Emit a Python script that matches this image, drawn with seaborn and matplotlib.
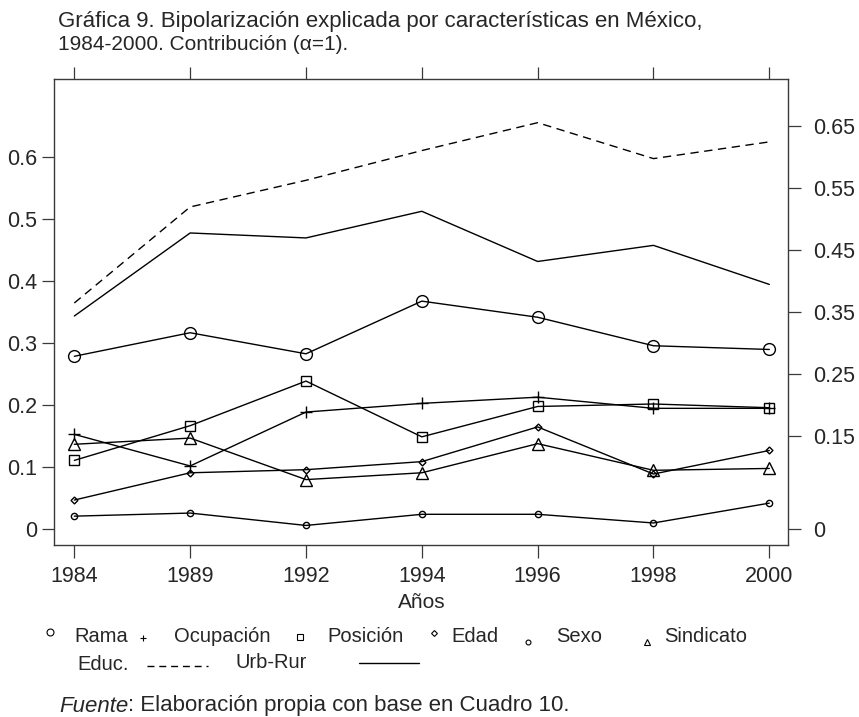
import numpy as np
import pandas as pd
import matplotlib
matplotlib.use("Agg")
import matplotlib.pyplot as plt
from matplotlib.lines import Line2D
import seaborn as sns

# Survey years (equally spaced on the axis)
years = ["1984", "1989", "1992", "1994", "1996", "1998", "2000"]

# Contribution of each characteristic to bipolarization (alpha = 1)
rama      = [0.279, 0.317, 0.283, 0.368, 0.342, 0.296, 0.290]
ocupacion = [0.153, 0.102, 0.189, 0.203, 0.213, 0.195, 0.195]
posicion  = [0.111, 0.167, 0.239, 0.149, 0.198, 0.202, 0.196]
edad      = [0.047, 0.091, 0.096, 0.109, 0.165, 0.089, 0.127]
sexo      = [0.021, 0.026, 0.006, 0.024, 0.024, 0.010, 0.042]
sindicato = [0.137, 0.147, 0.080, 0.091, 0.138, 0.095, 0.098]
educ      = [0.365, 0.520, 0.563, 0.611, 0.656, 0.598, 0.625]
urb_rur   = [0.344, 0.478, 0.470, 0.513, 0.432, 0.458, 0.395]

left_ticks = [0, 0.1, 0.2, 0.3, 0.4, 0.5, 0.6]
right_ticks = [0, 0.15, 0.25, 0.35, 0.45, 0.55, 0.65]

sns.set_theme(style="white")
plt.rcParams["font.family"] = ["Liberation Sans", "DejaVu Sans"]

W, H = 859, 717
fig = plt.figure(figsize=(W / 100, H / 100), dpi=100)
ax = fig.add_axes([0.0632, 0.2395, 0.8545, 0.6499])


def fx(px):
    return px / W


def fy(py):
    return 1 - py / H


pos = np.arange(len(years))
df = pd.DataFrame({"pos": pos, "Rama": rama, "Ocupación": ocupacion,
                   "Posición": posicion, "Edad": edad, "Sexo": sexo,
                   "Sindicato": sindicato, "Educ.": educ, "Urb-Rur": urb_rur})

lw = 1.0
styles = {
    "Rama":      dict(marker="o", markersize=8.5),
    "Ocupación": dict(marker="+", markersize=8),
    "Posición":  dict(marker="s", markersize=7.5),
    "Edad":      dict(marker="D", markersize=3.5),
    "Sexo":      dict(marker="o", markersize=4.5),
    "Sindicato": dict(marker="^", markersize=8),
}
for name, st in styles.items():
    sns.lineplot(data=df, x="pos", y=name, ax=ax, color="black", lw=lw,
                 marker=st["marker"], markersize=st["markersize"],
                 markerfacecolor="none", markeredgecolor="black",
                 markeredgewidth=1.0)
sns.lineplot(data=df, x="pos", y="Educ.", ax=ax, color="black", lw=lw,
             linestyle=(0, (6, 4)))
sns.lineplot(data=df, x="pos", y="Urb-Rur", ax=ax, color="black", lw=lw)

ax.set_xlim(-0.173, 6.164)
ax.set_ylim(-0.026, 0.726)
ax.set_xticks(pos)
ax.set_xticklabels(years)
ax.set_yticks(left_ticks)
ax.set_yticklabels([f"{t:g}" for t in left_ticks])
ax.set_xlabel("Años", fontsize=15, labelpad=4)
ax.set_ylabel("")

for sp in ax.spines.values():
    sp.set_color("#3a3a3a")
    sp.set_linewidth(1.0)

ax.tick_params(axis="both", direction="out", length=9, width=0.9,
               color="#3a3a3a", labelsize=15.5, pad=3,
               left=True, bottom=True, top=True, labeltop=False)
ax.tick_params(axis="x", pad=6)

ax2 = ax.twinx()
ax2.set_ylim(ax.get_ylim())
ax2.set_yticks(right_ticks)
ax2.set_yticklabels([f"{t:g}" for t in right_ticks])
ax2.tick_params(axis="y", direction="out", length=9, width=0.9,
                color="#3a3a3a", labelsize=15.5, pad=9, right=True)
for sp in ax2.spines.values():
    sp.set_visible(False)
ax2.grid(False)
ax.grid(False)

fig.text(fx(58), fy(22), "Gráfica 9. Bipolarización explicada por características en México,",
         fontsize=16, va="center", ha="left")
fig.text(fx(58), fy(45), "1984-2000. Contribución (\u03b1=1).",
         fontsize=15, va="center", ha="left")

# Legend keys and labels, first row: marker symbol then name
row1_y = 636
legend_row1 = [
    # name, key x, label x, key y offset, marker, size
    ("Rama",      50, 74, -4, "o", 5.0),
    ("Ocupación", 143, 174, 2, "+", 5.0),
    ("Posición",  300, 327, 1, "s", 5.0),
    ("Edad",      434, 451, -3, "D", 3.0),
    ("Sexo",      528, 556, 6, "o", 3.5),
    ("Sindicato", 647, 664, 6, "^", 5.0),
]
for name, kx, tx, dy, mk, ms in legend_row1:
    fig.add_artist(Line2D([fx(kx)], [fy(row1_y + dy)], transform=fig.transFigure,
                          ls="none", marker=mk, markersize=ms, color="black",
                          markerfacecolor="none", markeredgewidth=0.8))
    fig.text(fx(tx), fy(row1_y), name, fontsize=14.5, va="center", ha="left")

# Second row: name then line sample
row2_y = 664
fig.text(fx(77), fy(row2_y), "Educ.", fontsize=14.5, va="center", ha="left")
fig.add_artist(Line2D([fx(147), fx(208)], [fy(row2_y + 2), fy(row2_y + 2)],
                      transform=fig.transFigure, color="black", lw=1.0,
                      linestyle=(0, (5, 3.5))))
fig.text(fx(235), fy(row2_y - 2), "Urb-Rur", fontsize=14.5, va="center", ha="left")
fig.add_artist(Line2D([fx(359), fx(419)], [fy(row2_y - 1), fy(row2_y - 1)],
                      transform=fig.transFigure, color="black", lw=1.0))

t = fig.text(fx(59), fy(706), "Fuente", fontsize=16, va="center", ha="left",
             style="italic")
fig.canvas.draw()
bb = t.get_window_extent()
fig.text(bb.x1 / fig.bbox.width, fy(706),
         ": Elaboración propia con base en Cuadro 10.", fontsize=16,
         va="center", ha="left")

fig.savefig("out.png", dpi=100)
